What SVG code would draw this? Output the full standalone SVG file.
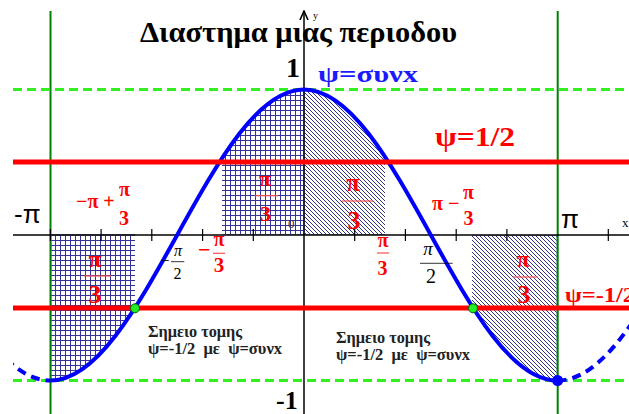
<svg xmlns="http://www.w3.org/2000/svg" width="629" height="414" viewBox="0 0 629 414">
<style>
.serif{font-family:"Liberation Serif","DejaVu Serif",serif}
.b{font-weight:bold}
.red{fill:#ff0000}
.blk{fill:#000}
.fr{font-family:"Liberation Serif","DejaVu Serif",serif;font-weight:bold;fill:#ff0000;text-anchor:middle}
.frb{font-family:"Liberation Serif","DejaVu Serif",serif;fill:#000;text-anchor:middle}
.bar{stroke:#ff5050;stroke-width:1.2}
.barb{stroke:#000;stroke-width:0.8}
.gd{stroke:#33ee22;stroke-width:3;stroke-dasharray:9 5;fill:none}
.rl{stroke:#ff0000;stroke-width:5}
.gv{stroke:#008000;stroke-width:2}
.ax{stroke:#000;stroke-width:1.5}
.tk{stroke:#000;stroke-width:1.2}
.reg{stroke:#8888cc;stroke-width:2}
.curve{fill:none;stroke:#0000ff;stroke-width:4}
.dash{fill:none;stroke:#0000ff;stroke-width:4;stroke-dasharray:9 6}
.note{font-family:"Liberation Serif","DejaVu Serif",serif;font-weight:bold;font-size:16px;fill:#222}
</style>
<defs>
<pattern id="grid" width="5" height="5" patternUnits="userSpaceOnUse">
<rect width="5" height="5" fill="#ffffff"/>
<path d="M0,0.5H5M0.5,0V5" stroke="#33339a" stroke-width="1"/>
</pattern>
<pattern id="diag" width="4" height="4" patternUnits="userSpaceOnUse">
<rect width="4" height="4" fill="#ffffff"/>
<path d="M-1,-1L5,5M-1,3L1,5M3,-1L5,1" stroke="#1a1a80" stroke-width="0.9"/>
</pattern>
<clipPath id="c1"><rect x="50.4" y="230" width="84.6" height="160"/></clipPath>
<clipPath id="c2"><rect x="222" y="80" width="82" height="155"/></clipPath>
<clipPath id="c3"><rect x="304" y="80" width="81" height="155"/></clipPath>
<clipPath id="c4"><rect x="472" y="235" width="85.6" height="150"/></clipPath>
<clipPath id="cl"><rect x="13" y="0" width="40" height="414"/></clipPath>
<marker id="arr" viewBox="0 0 10 10" refX="9" refY="5" markerWidth="7" markerHeight="7" orient="auto"><path d="M0,1L9,5L0,9" fill="none" stroke="#000" stroke-width="1.5"/></marker>
</defs>

<g id="regions">
<path d="M50.4,235 L50.4,380.5 C96.30,380.5 135.85,309.54 177.20,235 Z" fill="url(#grid)" class="reg" clip-path="url(#c1)"/>
<path d="M177.2,235 C218.56,160.46 258.11,89.5 304,89.5 L304,235 Z" fill="url(#grid)" class="reg" clip-path="url(#c2)"/>
<path d="M304,235 L304,89.5 C349.89,89.5 389.44,160.46 430.8,235 Z" fill="url(#diag)" class="reg" clip-path="url(#c3)"/>
<path d="M430.8,235 C472.15,309.54 511.70,380.5 557.6,380.5 L557.6,235 Z" fill="url(#diag)" class="reg" clip-path="url(#c4)"/>
</g>

<g id="connectors">
<line class="gv" x1="50.5" y1="11" x2="50.5" y2="414"/>
<line class="gv" x1="557.7" y1="11" x2="557.7" y2="414"/>
<line class="gd" x1="13" y1="89.5" x2="629" y2="89.5"/>
<line class="gd" x1="13" y1="380.5" x2="629" y2="380.5"/>
<line class="ax" x1="13" y1="235" x2="629" y2="235"/>
<line class="ax" x1="304" y1="414" x2="304" y2="11" marker-end="url(#arr)"/>
<path class="tk" d="M101.1,229V241M151.8,229V241M202.6,229V241M253.3,229V241M354.7,229V241M405.4,229V241M456.2,229V241M506.9,229V241M608.3,229V241M50.4,229V241"/>
<path class="curve" d="M50.4,380.5 C96.30,380.5 135.85,309.54 177.20,235 C218.56,160.46 258.11,89.5 304,89.5 C349.89,89.5 389.44,160.46 430.80,235 C472.15,309.54 511.70,380.5 557.6,380.5"/>
<path class="dash" d="M557.6,380.5 C603.49,380.5 643.04,309.54 684.4,235"/>
<path class="dash" d="M-76.4,235 C-35.04,309.54 4.51,380.5 50.4,380.5" clip-path="url(#cl)"/>
<line class="rl" x1="13" y1="162" x2="629" y2="162"/>
<line class="rl" x1="13" y1="308" x2="629" y2="308"/>
</g>

<g id="points">
<circle cx="135" cy="308.3" r="4.5" fill="#22ee22" stroke="#006600" stroke-width="1"/>
<circle cx="473" cy="308.3" r="4.5" fill="#22ee22" stroke="#006600" stroke-width="1"/>
<circle cx="557.6" cy="380.5" r="5.5" fill="#0000ff"/>
</g>

<g id="title">
<text class="serif b blk" x="140" y="42" font-size="29" textLength="317" lengthAdjust="spacingAndGlyphs">Διαστημα μιας περιοδου</text>
</g>

<g id="axis-labels">
<text class="serif b blk" x="286" y="77" font-size="28">1</text>
<text class="serif b blk" x="276" y="409" font-size="26">-1</text>
<text font-family="Liberation Sans,Arial,sans-serif" x="14" y="223" font-size="26" fill="#000">-π</text>
<text font-family="Liberation Sans,Arial,sans-serif" x="561" y="228" font-size="26" fill="#000">π</text>
<text class="serif" x="622" y="227" font-size="13" fill="#000">x</text>
<text class="serif" x="313" y="19" font-size="10" fill="#000">y</text>
<text class="serif" x="288" y="228" font-size="13" fill="#333">0</text>
</g>

<g id="equations">
<text class="serif b" x="318" y="82" font-size="24" fill="#1a1aff" textLength="100" lengthAdjust="spacingAndGlyphs">ψ=συνx</text>
<text class="serif b red" x="435" y="146" font-size="27" textLength="80" lengthAdjust="spacingAndGlyphs">ψ=1/2</text>
<text class="serif b red" x="565" y="302" font-size="22" textLength="70" lengthAdjust="spacingAndGlyphs">ψ=-1/2</text>
</g>

<g id="fractions">
<text class="fr" x="265" y="186" font-size="22">π</text>
<line class="bar" x1="255" y1="195.7" x2="278" y2="195.7"/>
<text class="fr" x="265.5" y="221" font-size="22">3</text>

<text class="fr" x="353" y="191" font-size="25">π</text>
<line class="bar" x1="342" y1="201" x2="373" y2="201"/>
<text class="fr" x="354" y="229" font-size="26">3</text>

<text class="serif b red" x="76" y="208" font-size="20">−π +</text>
<text class="fr" x="124.5" y="196" font-size="20">π</text>
<text class="fr" x="124" y="225" font-size="20">3</text>

<text class="serif b red" x="432" y="210" font-size="20">π −</text>
<text class="fr" x="468.5" y="199" font-size="20">π</text>
<text class="fr" x="468.5" y="225" font-size="20">3</text>

<text class="serif b red" x="198" y="257" font-size="22">−</text>
<text class="fr" x="219" y="245.5" font-size="20">π</text>
<line class="bar" x1="213" y1="253.3" x2="225" y2="253.3"/>
<text class="fr" x="219" y="271.5" font-size="21">3</text>

<text class="fr" x="383" y="247" font-size="20">π</text>
<line class="bar" x1="377" y1="253" x2="389" y2="253"/>
<text class="fr" x="382.5" y="275" font-size="20">3</text>

<text class="fr" x="95" y="267" font-size="24">π</text>
<line class="bar" x1="84" y1="276" x2="111" y2="276"/>
<text class="fr" x="95" y="303" font-size="26">3</text>

<text class="fr" x="523" y="267" font-size="24">π</text>
<line class="bar" x1="513" y1="277" x2="538" y2="277"/>
<text class="fr" x="524" y="303" font-size="26">3</text>

<text class="frb" x="165" y="266" font-size="16">−</text>
<text class="frb" x="178" y="255.5" font-size="16" font-style="italic">π</text>
<line class="barb" x1="171" y1="261.7" x2="184.3" y2="261.7"/>
<text class="frb" x="177.5" y="279" font-size="16">2</text>

<text class="frb" x="428" y="255" font-size="19" font-style="italic">π</text>
<line class="barb" x1="420" y1="263.3" x2="452.7" y2="263.3"/>
<text class="frb" x="431" y="283" font-size="20">2</text>
</g>

<g id="notes">
<text class="note" x="148" y="337" textLength="94" lengthAdjust="spacingAndGlyphs">Σημειο τομης</text>
<text class="note" x="148" y="354" xml:space="preserve" textLength="134" lengthAdjust="spacingAndGlyphs">ψ=-1/2  με  ψ=συνx</text>
<text class="note" x="336" y="343" textLength="94" lengthAdjust="spacingAndGlyphs">Σημειο τομης</text>
<text class="note" x="336" y="360" xml:space="preserve" textLength="134" lengthAdjust="spacingAndGlyphs">ψ=-1/2  με  ψ=συνx</text>
</g>
</svg>
